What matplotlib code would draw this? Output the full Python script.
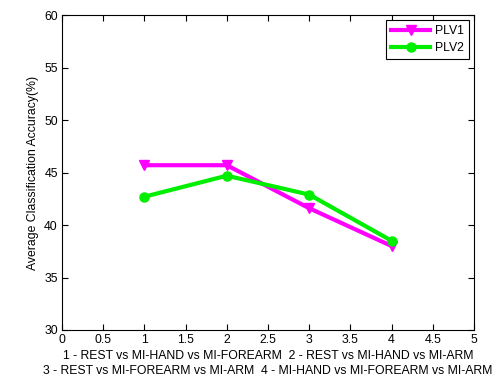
import matplotlib
matplotlib.use("Agg")
import matplotlib.pyplot as plt

plt.rcParams["font.family"] = ["Liberation Sans", "DejaVu Sans"]

conditions = [1, 2, 3, 4]
plv1 = [45.7, 45.7, 41.6, 38.0]
plv2 = [42.7, 44.7, 42.9, 38.5]
xlabel_lines = [
    "1 - REST vs MI-HAND vs MI-FOREARM  2 - REST vs MI-HAND vs MI-ARM",
    "3 - REST vs MI-FOREARM vs MI-ARM  4 - MI-HAND vs MI-FOREARM vs MI-ARM",
]

fig = plt.figure(figsize=(5, 3.78), dpi=100)
ax = fig.add_axes([0.124, 0.127, 0.824, 0.833])

ax.plot(conditions, plv1, color="#ff00ff", linewidth=3, marker="v",
        markersize=7, label="PLV1")
ax.plot(conditions, plv2, color="#00ee00", linewidth=3, marker="o",
        markersize=6.5, label="PLV2")

ax.set_xlim(0, 5)
ax.set_ylim(30, 60)
ax.set_xticks([0, 0.5, 1, 1.5, 2, 2.5, 3, 3.5, 4, 4.5, 5])
ax.set_xticklabels(["0", "0.5", "1", "1.5", "2", "2.5", "3", "3.5", "4", "4.5", "5"])
ax.set_yticks(range(30, 61, 5))
ax.tick_params(direction="in", top=True, right=True, labelsize=8.8,
               length=4, width=0.8, pad=3)
for s in ax.spines.values():
    s.set_linewidth(0.8)

ax.set_xlabel("\n".join(xlabel_lines), fontsize=8.8, labelpad=3, linespacing=1.3)
ax.set_ylabel("Average Classification Accuracy(%)", fontsize=8.8, labelpad=4)

leg = ax.legend(loc="upper right", fontsize=8.8, fancybox=False,
                edgecolor="black", framealpha=1, handlelength=3.2,
                borderaxespad=0.4, labelspacing=0.45, handletextpad=0.4)
leg.get_frame().set_linewidth(0.8)

fig.savefig("out.png", dpi=100)
